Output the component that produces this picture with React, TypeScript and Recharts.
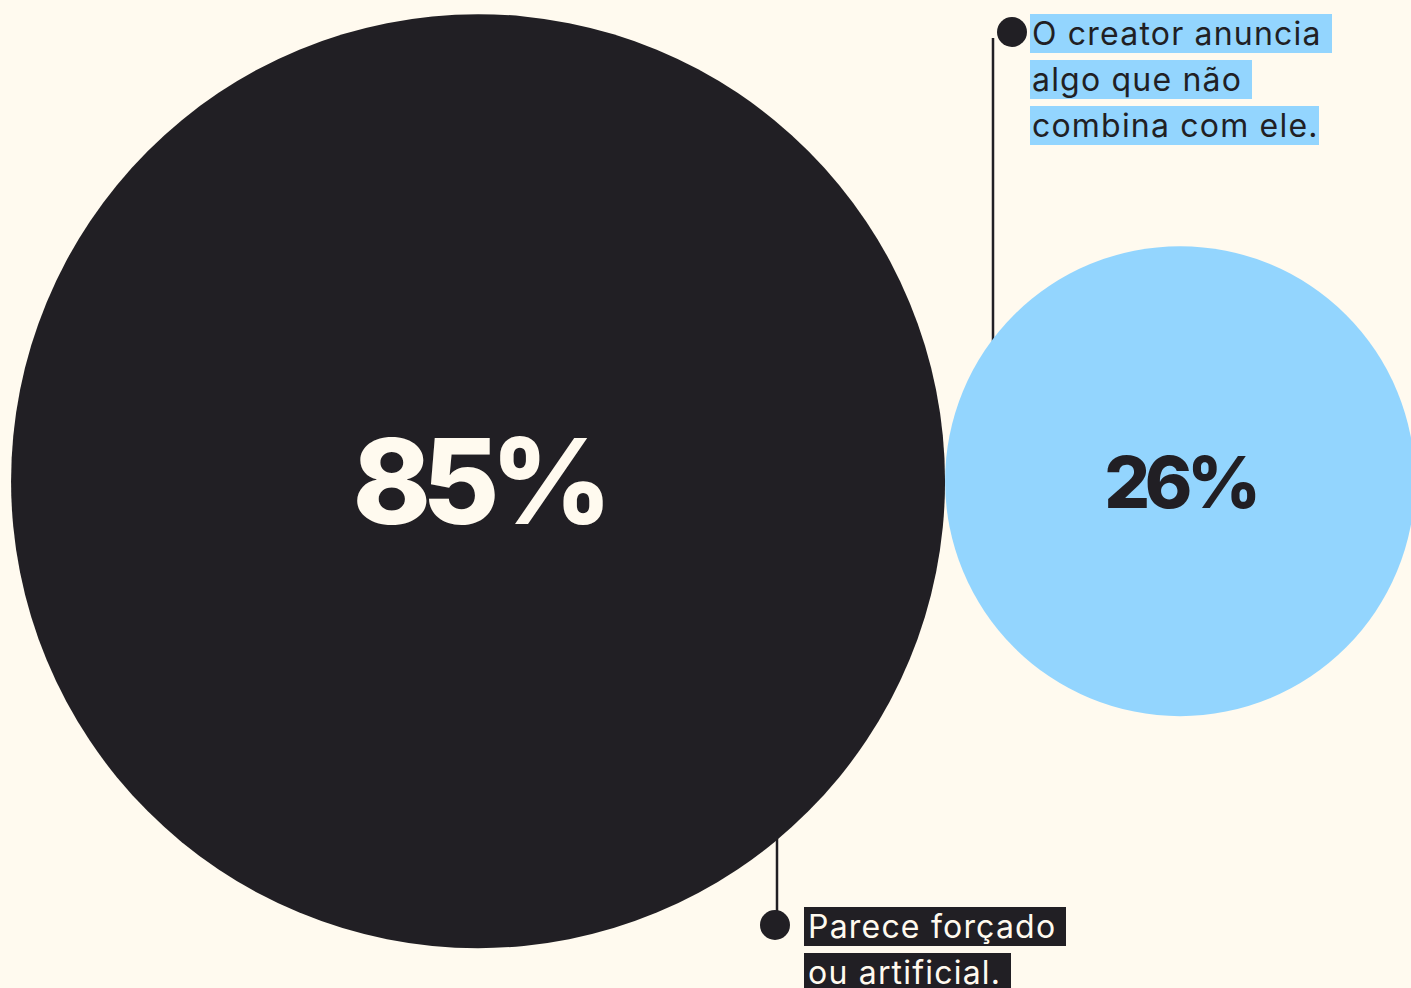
import React from "react";
import { ScatterChart, Scatter, XAxis, YAxis, ZAxis } from "recharts";

const W = 1411;
const H = 988;

const BG = "#fffaef";
const INK = "#211f24";
const SKY = "#93d5fe";

// the two bubbles
const labels = ["85%", "26%"];
const shares = [85, 26];
const slots = [0, 1];
const fills = [INK, SKY];
const textFills = [BG, INK];

const topNote = ["O creator anuncia ", "algo que não ", "combina com ele."];
const bottomNote = ["Parece forçado ", "ou artificial. "];

const data = labels.map((label, i) => ({
  label,
  value: shares[i],
  x: slots[i],
  y: 0,
  fill: fills[i],
  textFill: textFills[i],
}));

function Bubble(props: any) {
  const { cx, cy, size, payload } = props;
  const r = Math.sqrt((size || 0) / Math.PI);
  const fontSize = 25 + r * 0.2;
  return (
    <g>
      <circle cx={cx} cy={cy} r={r} fill={payload.fill} />
      <text
        x={cx}
        y={cy}
        textAnchor="middle"
        dominantBaseline="central"
        fill={payload.textFill}
        style={{ fontFamily: "Inter", fontWeight: 800, fontSize, letterSpacing: -0.075 * fontSize }}
      >
        {payload.label}
      </text>
    </g>
  );
}

const noteText: React.CSSProperties = {
  fontFamily: "Inter",
  fontSize: 32,
  lineHeight: "46px",
  whiteSpace: "pre",
  letterSpacing: 1.2,
};

export default function App() {
  return (
    <div style={{ position: "absolute", left: 0, top: 0, width: W, height: H, background: BG, overflow: "hidden" }}>
      {/* connector lines sit behind the bubbles */}
      <svg width={W} height={H} style={{ position: "absolute", left: 0, top: 0 }}>
        <line x1={993} y1={38} x2={993} y2={400} stroke={INK} strokeWidth={2.5} />
        <line x1={777} y1={800} x2={777} y2={925} stroke={INK} strokeWidth={2.5} />
      </svg>
      <div style={{ position: "absolute", left: 0, top: 0 }}>
        <ScatterChart width={W} height={H} margin={{ top: 0, right: 0, bottom: 0, left: 0 }}>
          <XAxis type="number" dataKey="x" domain={[-0.681, 1.329]} hide />
          <YAxis type="number" dataKey="y" domain={[-1.026, 0.974]} hide />
          <ZAxis type="number" dataKey="value" domain={[6, 85]} range={[0, Math.PI * 467 * 467]} />
          <Scatter data={data} shape={<Bubble />} isAnimationActive={false} />
        </ScatterChart>
      </div>
      <svg width={W} height={H} style={{ position: "absolute", left: 0, top: 0, pointerEvents: "none" }}>
        <circle cx={1012} cy={32} r={15} fill={INK} />
        <circle cx={775} cy={925} r={15} fill={INK} />
      </svg>
      <div style={{ position: "absolute", left: 1030, top: 11, color: INK, ...noteText }}>
        {topNote.map((t) => (
          <div key={t}>
            <span style={{ background: SKY, padding: "0 0 0 2px" }}>{t}</span>
          </div>
        ))}
      </div>
      <div style={{ position: "absolute", left: 804, top: 904, color: BG, ...noteText }}>
        {bottomNote.map((t) => (
          <div key={t}>
            <span style={{ background: INK, padding: "0 0 0 4px" }}>{t}</span>
          </div>
        ))}
      </div>
    </div>
  );
}
